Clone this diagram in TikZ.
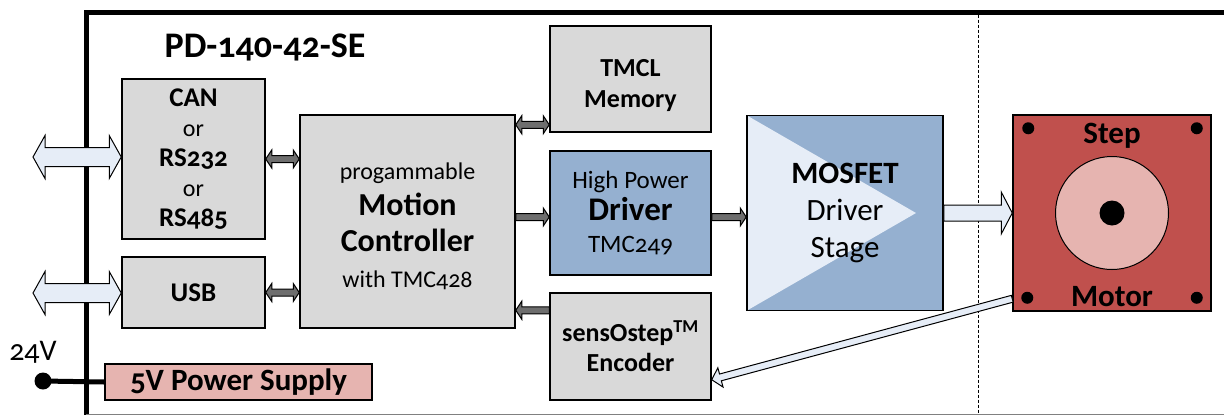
\documentclass[tikz,border=0pt]{standalone}
\usepackage{fontspec}
\setmainfont{Carlito}[Numbers=OldStyle]
\usepackage{tikz}
\usetikzlibrary{positioning,calc}

\definecolor{boxgray}{HTML}{D9D9D9}
\definecolor{drvblue}{HTML}{95B0D0}
\definecolor{lightblue}{HTML}{E6EDF7}
\definecolor{motorred}{HTML}{C0504D}
\definecolor{rotorpink}{HTML}{E6B4B0}
\definecolor{arrowgray}{HTML}{6E6E6E}

\newcommand{\setsize}[2]{\fontsize{#1}{#2}\selectfont}

\tikzset{
  fat double/.style n args={3}{to path={let \p1=(\tikztostart), \p2=(\tikztotarget), \n1={atan2(\y2-\y1,\x2-\x1)} in
    (\p1) -- ($(\p1)+(\n1:#3)+(\n1+90:#2)$) -- ($(\p1)+(\n1:#3)+(\n1+90:#1)$)
    -- ($(\p2)+(\n1+180:#3)+(\n1+90:#1)$) -- ($(\p2)+(\n1+180:#3)+(\n1+90:#2)$) -- (\p2)
    -- ($(\p2)+(\n1+180:#3)+(\n1-90:#2)$) -- ($(\p2)+(\n1+180:#3)+(\n1-90:#1)$)
    -- ($(\p1)+(\n1:#3)+(\n1-90:#1)$) -- ($(\p1)+(\n1:#3)+(\n1-90:#2)$) -- cycle}},
  fat single/.style n args={3}{to path={let \p1=(\tikztostart), \p2=(\tikztotarget), \n1={atan2(\y2-\y1,\x2-\x1)} in
    ($(\p1)+(\n1+90:#1)$) -- ($(\p2)+(\n1+180:#3)+(\n1+90:#1)$) -- ($(\p2)+(\n1+180:#3)+(\n1+90:#2)$) -- (\p2)
    -- ($(\p2)+(\n1+180:#3)+(\n1-90:#2)$) -- ($(\p2)+(\n1+180:#3)+(\n1-90:#1)$)
    -- ($(\p1)+(\n1-90:#1)$) -- cycle}}
}
\tikzstyle{block} = [draw, line width=1.5pt, fill=boxgray, align=center, inner sep=0pt]
\tikzstyle{bluebox} = [block, fill=drvblue]
\tikzstyle{busarrow} = [draw=black, line width=1pt, fill=lightblue, fat double={9.5pt}{21.5pt}{12pt}]
\tikzstyle{linkarrow} = [draw=black, line width=1pt, fill=arrowgray, fat double={3.5pt}{9pt}{6pt}]
\tikzstyle{feedarrow} = [draw=black, line width=1pt, fill=arrowgray, fat single={3.5pt}{9pt}{6pt}]
\tikzstyle{powerarrow} = [draw=black, line width=1pt, fill=lightblue, fat single={8pt}{21pt}{11pt}]
\tikzstyle{encarrow} = [draw=black, line width=1pt, fill=lightblue, fat single={3.5pt}{10pt}{9pt}]

\begin{document}
\begin{tikzpicture}[x=1pt,y=-1pt]
  \useasboundingbox (0,0) rectangle (1224,416);
  % housing
  \draw[line width=5pt, line join=miter] (86,414.5) -- (86,12) -- (1224,12);
  \draw[gray, line width=1pt] (86,414.5) -- (1224,414.5);
  \draw[dashed, dash pattern=on 3pt off 2pt] (978,14.5) -- (978,414);

  \node[font=\setsize{36}{40}\bfseries] (title) at (265,47) {PD-140-42-SE};
  \node[block, minimum width=143pt, minimum height=160pt, font=\setsize{24}{30}] (can) at (193.5,159)
    {{\setsize{27}{30}\bfseries CAN}\\ or\\ {\setsize{27}{30}\bfseries RS232}\\ or\\ {\setsize{27}{30}\bfseries RS485}};
  \node[block, minimum width=143pt, minimum height=71pt, font=\setsize{27}{30}\bfseries] (usb) at (193.5,292.5) {USB};
  \node[block, minimum width=215pt, minimum height=213pt, font=\setsize{24}{36}] (mc) at (407.5,221.5)
    {\rule{0pt}{27pt}progammable\\ {\setsize{32}{36}\bfseries Motion}\\ {\setsize{32}{36}\bfseries Controller}\\ with TMC428};
  \node[bluebox, minimum width=161pt, minimum height=124pt, font=\setsize{25}{32}] (drv) at (630.5,213)
    {High Power\\ {\setsize{33}{32}\bfseries Driver}\\ TMC249};
  \node[block, minimum width=161pt, minimum height=106pt, node distance=134pt, font=\setsize{26}{31}\bfseries] (tmcl) [above of=drv]
    {\rule{0pt}{30pt}TMCL\\ Memory};
  \node[block, minimum width=161pt, minimum height=107pt, node distance=133.5pt, font=\setsize{26}{30}\bfseries] (enc) [below of=drv]
    {sensOstep\textsuperscript{TM}\\ Encoder};
  \node[bluebox, minimum width=196pt, minimum height=195pt, node distance=214.5pt, font=\setsize{31}{37},
    path picture={\fill[lightblue] (path picture bounding box.north west) -- ([xshift=-27pt]path picture bounding box.east)
      -- (path picture bounding box.south west) -- cycle;}] (mos) [right of=drv]
    {{\setsize{31}{37}\bfseries MOSFET}\\ Driver\\ Stage};
  \node[block, fill=motorred, minimum width=198pt, minimum height=196pt, node distance=267pt] (motor) [right of=mos] {};
  \node[block, fill=rotorpink, minimum width=267pt, minimum height=36pt, font=\setsize{31}{36}\bfseries] (psu) at (238.5,382)
    {5V Power Supply};

  % motor face
  \draw[line width=1pt, fill=rotorpink] (motor.center) circle (56.5pt);
  \fill (motor.center) circle (12.5pt);
  \foreach \corner/\dx/\dy in {north west/16/14, north east/-15/14, south west/15/-14, south east/-15/-14}
    \fill ([shift={(\dx,\dy)}]motor.\corner) circle (6pt);
  \node[font=\setsize{31}{34}\bfseries] (steplbl) at ([yshift=-22pt]motor.north) {Step};
  \node[font=\setsize{31}{34}\bfseries] (motorlbl) at ([yshift=15pt]motor.south) {Motor};

  % connections
  \coordinate (canio) at (33,157);
  \coordinate (usbio) at (33,293);
  \draw[busarrow] (canio) to (can.west |- canio);
  \draw[busarrow] (usbio) to (usb.west |- usbio);
  \draw[linkarrow] (can.east) to (mc.west |- can.east);
  \draw[linkarrow] (usb.east) to (mc.west |- usb.east);
  \coordinate (memlink) at ([yshift=8pt]tmcl.south west);
  \draw[linkarrow] (mc.east |- memlink) to (memlink);
  \coordinate (drvin) at ([yshift=-4pt]drv.west);
  \coordinate (drvout) at ([yshift=-4pt]drv.east);
  \draw[feedarrow] (mc.east |- drvin) to (drvin);
  \draw[feedarrow] (drvout) to (mos.west |- drvout);
  \coordinate (encout) at ([yshift=-18pt]enc.north west);
  \draw[feedarrow] (encout) to (mc.east |- encout);
  \draw[powerarrow] (mos.east) to (motor.west |- mos.east);
  \coordinate (fbstart) at ([yshift=13pt]motor.south west);
  \coordinate (fbend) at ([yshift=21pt]enc.south east);
  \draw[encarrow] (fbstart) to (fbend);

  % supply
  \coordinate (vin) at (43,381);
  \draw[line width=5pt] (vin) -- (psu.west);
  \fill (vin) circle (8.5pt);
  \node[font=\setsize{30}{34}] (vinlbl) at (33,352) {24V};
\end{tikzpicture}
\end{document}
